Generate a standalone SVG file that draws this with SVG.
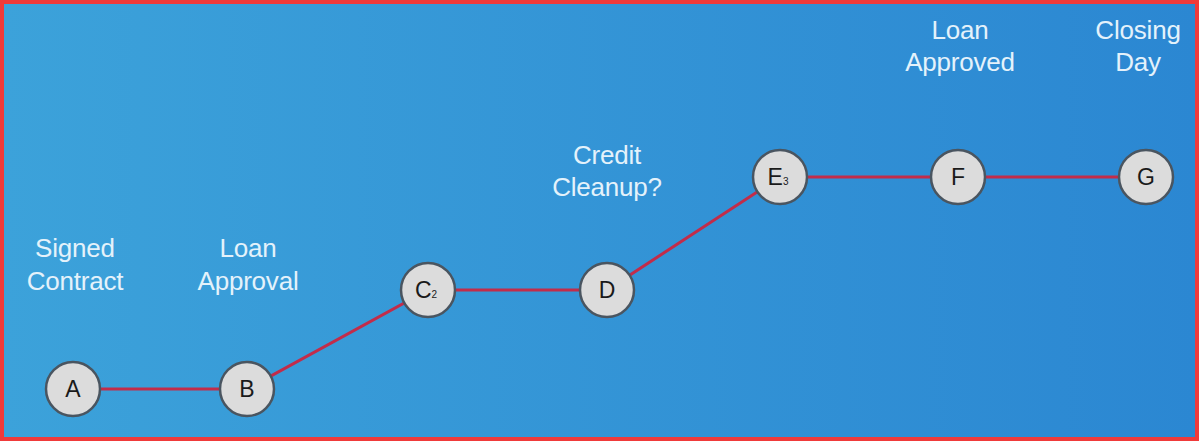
<svg xmlns="http://www.w3.org/2000/svg" width="1199" height="442" viewBox="0 0 1199 442">
<defs>
<linearGradient id="bg" x1="0" y1="0" x2="1" y2="0">
<stop offset="0" stop-color="#3ca2da"/>
<stop offset="1" stop-color="#2b87d2"/>
</linearGradient>
<style>
.lbl{font-family:"Liberation Sans",Arial,sans-serif;font-size:26px;fill:#e4f2fb;text-anchor:middle;letter-spacing:-0.2px}
.node circle{fill:#dcdcdc;stroke:#4a5560;stroke-width:2.5}
.node text{font-family:"Liberation Sans",Arial,sans-serif;font-size:23px;fill:#1a1a1a;text-anchor:middle}
.sub{font-size:10px}
.conn{stroke:#c22c4a;stroke-width:3;fill:none}
</style>
</defs>
<rect x="2" y="2" width="1195" height="437" fill="url(#bg)" stroke="#f03a3a" stroke-width="4"/>
<g id="connectors">
<polyline class="conn" points="73,389 247,389 428,290 607,290 780,177 958,177 1146,177"/>
</g>
<g id="labels">
<text class="lbl" x="75" y="257">Signed</text>
<text class="lbl" x="75" y="290">Contract</text>
<text class="lbl" x="248" y="257">Loan</text>
<text class="lbl" x="248" y="290">Approval</text>
<text class="lbl" x="607" y="164">Credit</text>
<text class="lbl" x="607" y="196">Cleanup?</text>
<text class="lbl" x="960" y="39">Loan</text>
<text class="lbl" x="960" y="71">Approved</text>
<text class="lbl" x="1138" y="39">Closing</text>
<text class="lbl" x="1138" y="71">Day</text>
</g>
<g id="node-A" class="node"><circle cx="73" cy="389" r="27"/><text x="73" y="397">A</text></g>
<g id="node-B" class="node"><circle cx="247" cy="389" r="27"/><text x="247" y="397">B</text></g>
<g id="node-C" class="node"><circle cx="428" cy="290" r="27"/><text x="426" y="298">C<tspan class="sub">2</tspan></text></g>
<g id="node-D" class="node"><circle cx="607" cy="290" r="27"/><text x="607" y="298">D</text></g>
<g id="node-E" class="node"><circle cx="780" cy="177" r="27"/><text x="778" y="185">E<tspan class="sub">3</tspan></text></g>
<g id="node-F" class="node"><circle cx="958" cy="177" r="27"/><text x="958" y="185">F</text></g>
<g id="node-G" class="node"><circle cx="1146" cy="177" r="27"/><text x="1146" y="185">G</text></g>
</svg>
